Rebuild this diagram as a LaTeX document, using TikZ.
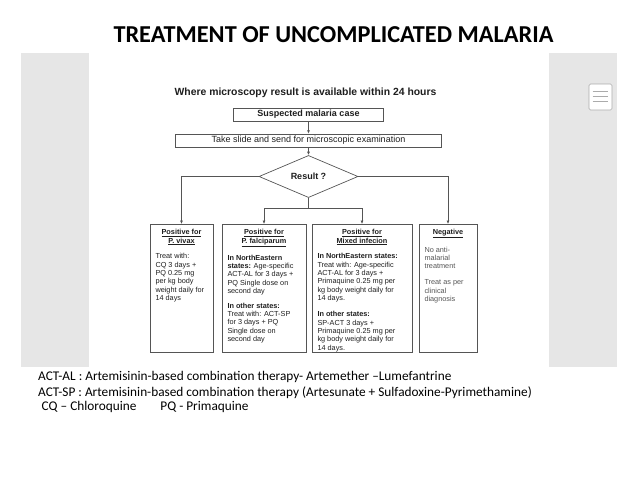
\documentclass[tikz,border=0pt]{standalone}
\usepackage{fontspec}
\setmainfont{Carlito}
\newfontfamily\chartfont{Liberation Sans}
\usepackage{tikz}
\usetikzlibrary{arrows.meta,positioning,shapes.geometric}
\definecolor{panel}{HTML}{E6E6E6}
\definecolor{ink}{HTML}{1E1E1E}
\definecolor{softink}{HTML}{555555}
\definecolor{line}{HTML}{555555}
\definecolor{iconline}{HTML}{ABABAB}
\tikzset{
  chart/.style={font=\chartfont\fontsize{9}{10.5}\selectfont, text=ink},
  stepbox/.style={chart, draw=line, line width=0.7pt, inner sep=0pt, minimum height=13pt},
  decision/.style={chart, diamond, draw=line, line width=0.7pt, inner sep=0pt,
    minimum width=99pt, minimum height=33pt, font=\chartfont\bfseries\fontsize{9}{10.5}\selectfont},
  outcome/.style={draw=line, line width=0.7pt, anchor=north, inner xsep=5.5pt, inner ysep=5pt,
    font=\chartfont\fontsize{7.3}{8.4}\selectfont, text=ink},
  flow/.style={-{Latex[length=3.4pt,width=3pt]}, draw=line, line width=0.75pt},
  link/.style={draw=line, line width=0.75pt},
  legendtext/.style={anchor=base west, inner sep=0pt, font=\fontsize{13.3}{15}\selectfont, text=black}
}
\newcommand{\outhead}[1]{{\centering\bfseries\underline{#1}\par}}
\newcommand{\outbody}[2]{\parbox[c][118pt][t]{#1}{\raggedright #2}}

\begin{document}
\begin{tikzpicture}[x=1pt,y=-1pt]
  \useasboundingbox (0,0) rectangle (638,479);
  \fill[panel] (21,53) rectangle (89,367);
  \fill[panel] (549,53) rectangle (617,367);
  \draw[iconline, fill=white, rounded corners=1.5pt, line width=0.6pt] (589,84) rectangle (612,110);
  \foreach \y in {91.7,96.7,101.7} {
    \draw[iconline, line width=0.6pt] (592.7,\y) -- (608.3,\y);
  }

  \node[font=\bfseries\fontsize{24.3}{28}\selectfont] (title) at (333.5,34.5) {TREATMENT OF UNCOMPLICATED MALARIA};

  \node[chart, font=\chartfont\bfseries\fontsize{10.4}{12}\selectfont] (where) at (305.5,93) {Where microscopy result is available within 24 hours};
  \node[stepbox, minimum width=150pt, font=\chartfont\bfseries\fontsize{9}{10.5}\selectfont] (suspect) at (308.5,114.5) {Suspected malaria case};
  \node[stepbox, minimum width=266pt] (slide) at (308.5,140.5) {Take slide and send for microscopic examination};
  \node[decision] (result) at (308.5,176.5) {Result ?};

  \node[outcome] (vivax) at (181.5,224) {\outbody{52pt}{%
    \outhead{Positive for}\outhead{P. vivax}\vspace{7.3pt}
    Treat with:\\
    CQ 3 days +\\
    PQ 0.25 mg\\
    per kg body\\
    weight daily for\\
    14 days}};
  \node[outcome] (falci) at (264,224) {\outbody{73pt}{%
    \outhead{Positive for}\outhead{P. falciparum}\vspace{7.3pt}
    \textbf{In NorthEastern}\\
    \textbf{states:} Age-specific\\
    ACT-AL for 3 days +\\
    PQ Single dose on\\
    second day\par\vspace{5.9pt}
    \textbf{In other states:}\\
    Treat with: ACT-SP\\
    for 3 days + PQ\\
    Single dose on\\
    second day}};
  \node[outcome] (mixed) at (362,224) {\outbody{89pt}{%
    \outhead{Positive for}\outhead{Mixed infecion}\vspace{7.3pt}
    \textbf{In NorthEastern states:}\\
    Treat with: Age-specific\\
    ACT-AL for 3 days +\\
    Primaquine 0.25 mg per\\
    kg body weight daily for\\
    14 days.\par\vspace{7.6pt}
    \textbf{In other states:}\\
    SP-ACT 3 days +\\
    Primaquine 0.25 mg per\\
    kg body weight daily for\\
    14 days.}};
  \node[outcome] (negative) at (448,224) {\outbody{47pt}{%
    \outhead{Negative}\vspace{7.6pt}
    \color{softink}No anti-\\
    malarial\\
    treatment\par\vspace{7.6pt}
    Treat as per\\
    clinical\\
    diagnosis}};

  \draw[flow] (suspect) -- (slide);
  \draw[flow] (slide) -- (result);
  \draw[flow] (result.west) -| (vivax.north);
  \draw[flow] (result.east) -| (negative.north);
  \coordinate (split) at (308.5,208);
  \draw[link] (result.south) -- (split);
  \draw[flow] (split) -| (falci.north);
  \draw[flow] (split) -| (mixed.north);

  \node[legendtext] (actal) at (38,380.5) {ACT-AL : Artemisinin-based combination therapy- Artemether --Lumefantrine};
  \node[legendtext] (actsp) at (38,396) {ACT-SP : Artemisinin-based combination therapy (Artesunate + Sulfadoxine-Pyrimethamine)};
  \node[legendtext] (abbrev) at (41.5,410.5) {CQ -- Chloroquine\hspace{24pt}PQ - Primaquine};
\end{tikzpicture}
\end{document}
